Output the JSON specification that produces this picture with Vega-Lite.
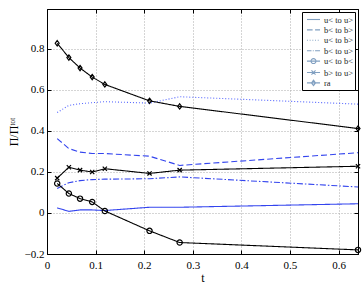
{
  "$schema": "https://vega.github.io/schema/vega-lite/v6.json",
  "width": 311,
  "height": 245,
  "autosize": "none",
  "padding": {"left": 47, "top": 9, "right": 6, "bottom": 30},
  "config": {
    "font": "Liberation Serif",
    "view": {"stroke": "black", "strokeWidth": 1},
    "axis": {
      "labelFont": "Liberation Serif",
      "titleFont": "Liberation Serif",
      "labelFontSize": 11,
      "titleFontSize": 12,
      "titleFontWeight": "normal",
      "labelColor": "black",
      "titleColor": "black",
      "domainColor": "black",
      "tickColor": "black",
      "tickSize": -4,
      "gridColor": "#aaaaaa",
      "gridDash": [1, 2],
      "gridWidth": 1
    },
    "legend": {
      "labelFont": "Liberation Serif",
      "labelFontSize": 8.5,
      "labelColor": "#222222"
    }
  },
  "data": {
    "values": [
      {"t": 0.021, "v": 0.025, "s": "u< to u>"},
      {"t": 0.045, "v": 0.008, "s": "u< to u>"},
      {"t": 0.068, "v": 0.015, "s": "u< to u>"},
      {"t": 0.093, "v": 0.015, "s": "u< to u>"},
      {"t": 0.119, "v": 0.012, "s": "u< to u>"},
      {"t": 0.211, "v": 0.028, "s": "u< to u>"},
      {"t": 0.273, "v": 0.028, "s": "u< to u>"},
      {"t": 0.64, "v": 0.045, "s": "u< to u>"},
      {"t": 0.021, "v": 0.363, "s": "b< to b>"},
      {"t": 0.045, "v": 0.314, "s": "b< to b>"},
      {"t": 0.068, "v": 0.297, "s": "b< to b>"},
      {"t": 0.093, "v": 0.29, "s": "b< to b>"},
      {"t": 0.119, "v": 0.29, "s": "b< to b>"},
      {"t": 0.211, "v": 0.277, "s": "b< to b>"},
      {"t": 0.273, "v": 0.232, "s": "b< to b>"},
      {"t": 0.64, "v": 0.294, "s": "b< to b>"},
      {"t": 0.021, "v": 0.49, "s": "u< to b>"},
      {"t": 0.045, "v": 0.525, "s": "u< to b>"},
      {"t": 0.068, "v": 0.533, "s": "u< to b>"},
      {"t": 0.093, "v": 0.538, "s": "u< to b>"},
      {"t": 0.119, "v": 0.543, "s": "u< to b>"},
      {"t": 0.211, "v": 0.536, "s": "u< to b>"},
      {"t": 0.273, "v": 0.567, "s": "u< to b>"},
      {"t": 0.64, "v": 0.531, "s": "u< to b>"},
      {"t": 0.021, "v": 0.12, "s": "b< to u>"},
      {"t": 0.045, "v": 0.148, "s": "b< to u>"},
      {"t": 0.068, "v": 0.158, "s": "b< to u>"},
      {"t": 0.093, "v": 0.163, "s": "b< to u>"},
      {"t": 0.119, "v": 0.165, "s": "b< to u>"},
      {"t": 0.211, "v": 0.167, "s": "b< to u>"},
      {"t": 0.273, "v": 0.176, "s": "b< to u>"},
      {"t": 0.64, "v": 0.127, "s": "b< to u>"},
      {"t": 0.021, "v": 0.144, "s": "u< to b<"},
      {"t": 0.045, "v": 0.095, "s": "u< to b<"},
      {"t": 0.068, "v": 0.07, "s": "u< to b<"},
      {"t": 0.093, "v": 0.054, "s": "u< to b<"},
      {"t": 0.119, "v": 0.01, "s": "u< to b<"},
      {"t": 0.211, "v": -0.087, "s": "u< to b<"},
      {"t": 0.273, "v": -0.144, "s": "u< to b<"},
      {"t": 0.64, "v": -0.18, "s": "u< to b<"},
      {"t": 0.021, "v": 0.17, "s": "b> to u>"},
      {"t": 0.045, "v": 0.223, "s": "b> to u>"},
      {"t": 0.068, "v": 0.209, "s": "b> to u>"},
      {"t": 0.093, "v": 0.2, "s": "b> to u>"},
      {"t": 0.119, "v": 0.216, "s": "b> to u>"},
      {"t": 0.211, "v": 0.193, "s": "b> to u>"},
      {"t": 0.273, "v": 0.209, "s": "b> to u>"},
      {"t": 0.64, "v": 0.228, "s": "b> to u>"},
      {"t": 0.021, "v": 0.828, "s": "ra"},
      {"t": 0.045, "v": 0.758, "s": "ra"},
      {"t": 0.068, "v": 0.707, "s": "ra"},
      {"t": 0.093, "v": 0.663, "s": "ra"},
      {"t": 0.119, "v": 0.627, "s": "ra"},
      {"t": 0.211, "v": 0.547, "s": "ra"},
      {"t": 0.273, "v": 0.52, "s": "ra"},
      {"t": 0.64, "v": 0.412, "s": "ra"}
    ]
  },
  "layer": [
    {
      "mark": {"type": "line", "strokeWidth": 1.1},
      "encoding": {
        "x": {
          "field": "t", "type": "quantitative",
          "scale": {"domain": [0, 0.64], "nice": false, "zero": false},
          "axis": {"orient": "bottom", "title": "t", "values": [0, 0.1, 0.2, 0.3, 0.4, 0.5, 0.6], "format": "~g", "labelPadding": 9, "titlePadding": 2, "labelFlush": false}
        },
        "y": {
          "field": "v", "type": "quantitative",
          "scale": {"domain": [-0.2, 0.995], "nice": false, "zero": false},
          "axis": {"orient": "left", "title": "Π/Πᵗᵒᵗ", "values": [-0.2, 0, 0.2, 0.4, 0.6, 0.8], "format": "~g", "labelPadding": 7, "titlePadding": 4, "labelFlush": false}
        },
        "color": {
          "field": "s", "type": "nominal",
          "scale": {
            "domain": ["u< to u>", "b< to b>", "u< to b>", "b< to u>", "u< to b<", "b> to u>", "ra"],
            "range": ["#3344ee", "#3344ee", "#5566ff", "#3344ee", "black", "black", "black"]
          },
          "legend": null
        },
        "strokeDash": {
          "field": "s", "type": "nominal",
          "scale": {
            "domain": ["u< to u>", "b< to b>", "u< to b>", "b< to u>", "u< to b<", "b> to u>", "ra"],
            "range": [[1, 0], [6, 3], [1, 2], [6, 2, 1.5, 2], [1, 0], [1, 0], [1, 0]]
          },
          "legend": null
        }
      }
    },
    {
      "transform": [{"filter": {"field": "s", "oneOf": ["u< to b<", "b> to u>", "ra"]}}],
      "mark": {"type": "point", "filled": false, "color": "black", "fill": "transparent", "strokeWidth": 1.2, "size": 28, "opacity": 1},
      "encoding": {
        "x": {
          "field": "t", "type": "quantitative",
          "axis": {"orient": "top", "labels": false, "title": null, "grid": false, "values": [0, 0.1, 0.2, 0.3, 0.4, 0.5, 0.6]}
        },
        "y": {
          "field": "v", "type": "quantitative",
          "axis": {"orient": "right", "labels": false, "title": null, "grid": false, "values": [-0.2, 0, 0.2, 0.4, 0.6, 0.8]}
        },
        "shape": {
          "field": "s", "type": "nominal",
          "scale": {
            "domain": ["u< to b<", "b> to u>", "ra"],
            "range": ["circle", "M-0.8,-0.8L0.8,0.8M-0.8,0.8L0.8,-0.8", "M0,-1L0.75,0L0,1L-0.75,0Z"]
          },
          "legend": null
        }
      }
    },
    {
      "transform": [{"filter": "datum.v > 5"}],
      "mark": {"type": "point", "filled": false, "strokeWidth": 1.1},
      "encoding": {
        "x": {"field": "t", "type": "quantitative", "axis": null},
        "y": {"field": "v", "type": "quantitative", "axis": null},
        "shape": {
          "field": "s", "type": "nominal",
          "scale": {
            "domain": ["u< to u>", "b< to b>", "u< to b>", "b< to u>", "u< to b<", "b> to u>", "ra"],
            "range": [
              "M-1.45,0H1.45",
              "M-1.45,0H-0.2M0.35,0H1.45",
              "M-1.45,0H-1.25M-0.85,0H-0.65M-0.25,0H-0.05M0.35,0H0.55M0.95,0H1.15",
              "M-1.45,0H-0.45M-0.15,0H0.05M0.35,0H1.45",
              "M-1.45,0H1.45M0.55,0A0.55,0.55 0 1,1 -0.55,0A0.55,0.55 0 1,1 0.55,0",
              "M-1.45,0H1.45M-0.45,-0.45L0.45,0.45M-0.45,0.45L0.45,-0.45",
              "M-1.45,0H1.45M0,-0.6L0.45,0L0,0.6L-0.45,0Z"
            ]
          },
          "legend": {
            "title": null, "orient": "top-right", "offset": 3,
            "strokeColor": "black", "fillColor": "white", "padding": 2,
            "rowPadding": 0.4, "symbolSize": 81, "symbolOffset": 4, "labelOffset": 5,
            "symbolStrokeWidth": 1.1,
            "encode": {
              "symbols": {
                "update": {
                  "stroke": [
                    {"test": "indexof(['u< to b<', 'b> to u>', 'ra'], datum.value) >= 0", "value": "black"},
                    {"scale": "color", "field": "value"}
                  ],
                  "strokeWidth": [
                    {"test": "indexof(['u< to b<', 'b> to u>', 'ra'], datum.value) >= 0", "value": 1.3},
                    {"value": 1.1}
                  ],
                  "fill": {"value": "transparent"},
                  "fillOpacity": {"value": 0},
                  "strokeOpacity": {"value": 1},
                  "opacity": {"value": 1}
                }
              },
              "labels": {"update": {"fill": {"value": "#222222"}}}
            }
          }
        }
      }
    }
  ],
  "resolve": {
    "scale": {"shape": "independent"},
    "axis": {"x": "independent", "y": "independent"}
  }
}
